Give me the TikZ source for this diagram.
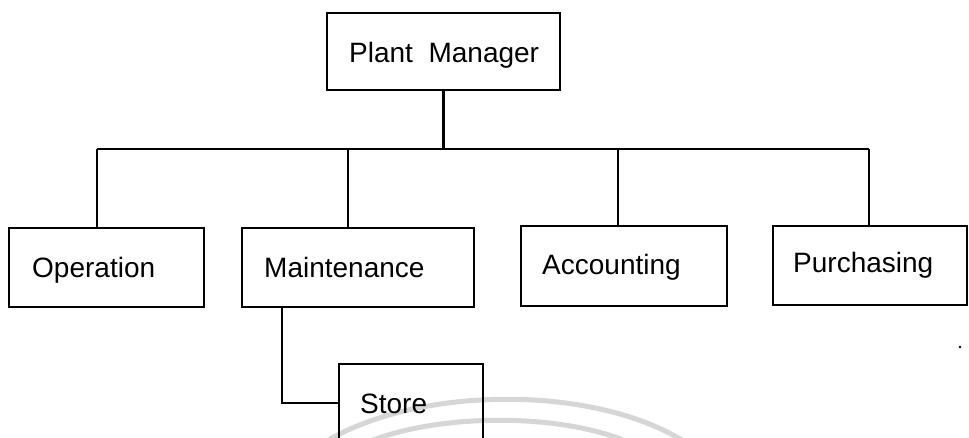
\documentclass[tikz,border=0pt]{standalone}
\usepackage{fontspec}
\setmainfont{Liberation Sans}
\definecolor{wm}{HTML}{D6D6D6}
\begin{document}
\begin{tikzpicture}[x=1pt,y=-1pt,
  box/.style={draw=black, line width=2.4pt, rectangle, inner sep=0pt},
  lbl/.style={inner sep=0pt, anchor=base west, font=\fontsize{28}{33}\selectfont},
  conn/.style={draw=black, line width=2.4pt}]
\useasboundingbox (0,0) rectangle (969,438);
\clip (0,0) rectangle (969,438);
\fill[white] (0,0) rectangle (969,438);
% watermark arcs
\draw[wm, line width=5pt] (325,442) .. controls (420,385) and (595,385) .. (685,442);
\draw[wm, line width=5pt] (368,442) .. controls (440,413) and (560,413) .. (628,442);
% boxes
\node[box, minimum width=233pt, minimum height=77pt] (pm) at (443.5,51.5) {};
\node[box, minimum width=195pt, minimum height=79pt] (op) at (106.5,267.5) {};
\node[box, minimum width=232pt, minimum height=79pt] (mt) at (358,267.5) {};
\node[box, minimum width=206pt, minimum height=80pt] (ac) at (624,266) {};
\node[box, minimum width=194pt, minimum height=79pt] (pu) at (870,265.5) {};
\node[box, minimum width=144pt, minimum height=78pt] (st) at (411,403) {};
% labels
\node[lbl] (tpm) at (349,63) {Plant\ \ Manager};
\node[lbl] (top) at (32,278) {Operation};
\node[lbl] (tmt) at (264,278) {Maintenance};
\node[lbl] (tac) at (542,275) {Accounting};
\node[lbl] (tpu) at (793,273) {Purchasing};
\node[lbl] (tst) at (360,413) {Store};
% connector coordinates
\coordinate (busL) at (97,149);
\coordinate (busR) at (869,149);
\coordinate (bm) at (348,149);
\coordinate (ba) at (618,149);
\coordinate (sx) at (282,0);
% connectors
\draw[conn] (pm.south) -- (pm.south |- busL);
\draw[conn] (busL) -- (busR);
\draw[conn] (busL) -- (busL |- op.north);
\draw[conn] (bm) -- (bm |- mt.north);
\draw[conn] (ba) -- (ba |- ac.north);
\draw[conn] (busR) -- (busR |- pu.north);
\draw[conn] (sx |- mt.south) -- (sx |- st.west) -- (st.west);
% speck
\fill[black] (960,347) circle (1.4);
\end{tikzpicture}
\end{document}
